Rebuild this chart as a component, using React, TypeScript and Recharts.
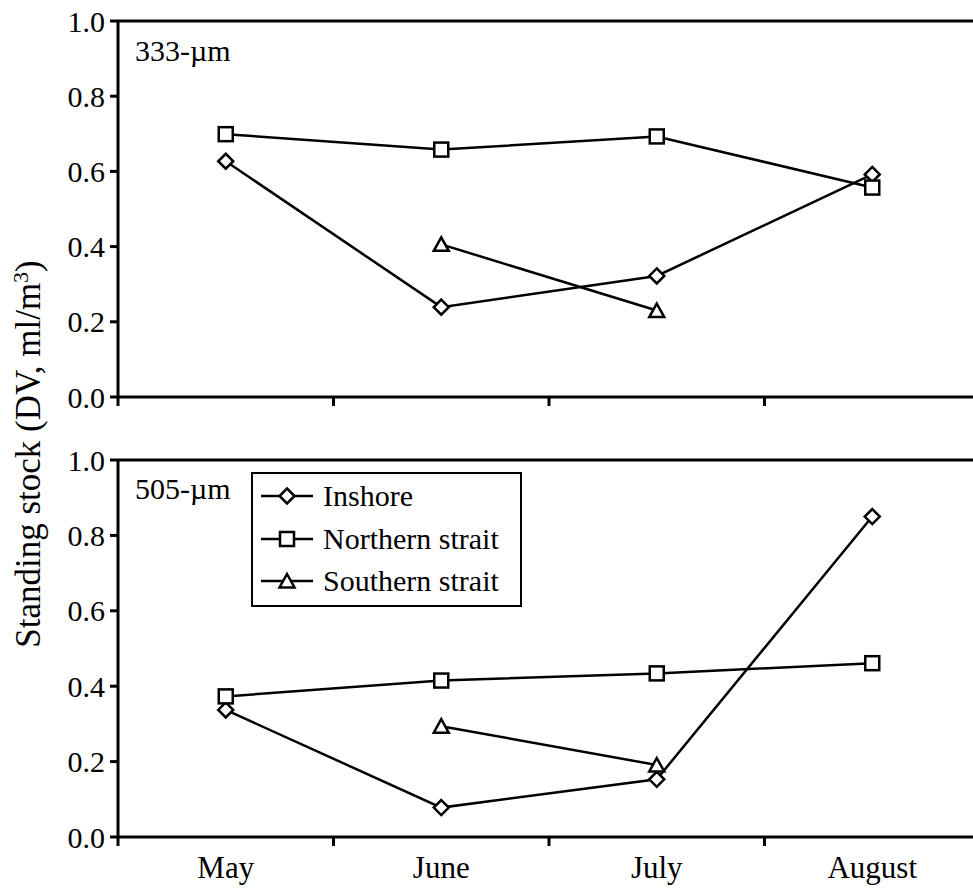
import React from 'react'
import { Legend, Line, LineChart, ReferenceLine, XAxis, YAxis } from 'recharts'

const months = ['May', 'June', 'July', 'August']
const yTicks = [0, 0.2, 0.4, 0.6, 0.8, 1.0]
const xTicks = [0, 0.5, 1, 1.5, 2, 2.5, 3, 3.5, 4]

// 333-um mesh (top panel)
const inshore333 = [0.627, 0.239, 0.322, 0.592]
const northern333 = [0.699, 0.658, 0.693, 0.557]
const southern333 = [null, 0.406, 0.23, null]

// 505-um mesh (bottom panel)
const inshore505 = [0.337, 0.078, 0.153, 0.85]
const northern505 = [0.373, 0.415, 0.434, 0.461]
const southern505 = [null, 0.294, 0.191, null]

const FONT = "'Liberation Serif', 'DejaVu Serif', 'Times New Roman', Times, serif"
const INK = '#000'

type Shape = 'diamond' | 'square' | 'triangle'

const series: { key: string; name: string; shape: Shape }[] = [
    { key: 'inshore', name: 'Inshore', shape: 'diamond' },
    { key: 'northern', name: 'Northern strait', shape: 'square' },
    { key: 'southern', name: 'Southern strait', shape: 'triangle' },
]

const buildRows = (a: (number | null)[], b: (number | null)[], c: (number | null)[]) =>
    months.map((m, i) => ({ month: m, pos: i + 0.5, inshore: a[i], northern: b[i], southern: c[i] }))

const topRows = buildRows(inshore333, northern333, southern333)
const bottomRows = buildRows(inshore505, northern505, southern505)

// marker drawn around (cx, cy)
const Marker = ({ shape, cx, cy }: { shape: Shape; cx: number; cy: number }) => {
    const common = { fill: '#fff', stroke: INK, strokeWidth: 2.5 }
    if (shape === 'diamond') {
        const r = 7.5
        return <polygon points={`${cx},${cy - r} ${cx + r},${cy} ${cx},${cy + r} ${cx - r},${cy}`} {...common} />
    }
    if (shape === 'square') {
        const s = 7
        return <rect x={cx - s} y={cy - s} width={s * 2} height={s * 2} {...common} />
    }
    return <polygon points={`${cx},${cy - 7} ${cx + 7.5},${cy + 6.5} ${cx - 7.5},${cy + 6.5}`} {...common} />
}

const makeDot = (shape: Shape) => (props: any) => {
    const { cx, cy, index, value } = props
    if (cx == null || cy == null || value == null || Number.isNaN(cy)) return <g key={`e-${index}`} />
    return (
        <g key={`d-${index}`}>
            <Marker shape={shape} cx={cx} cy={cy} />
        </g>
    )
}

// integer positions get a tick mark, half positions get the month name
const monthTick = (props: any, showLabels: boolean) => {
    const { x, y, payload } = props
    const v = payload.value as number
    if (Number.isInteger(v)) {
        return <line x1={x} x2={x} y1={y} y2={y + 9} stroke={INK} strokeWidth={3} />
    }
    if (!showLabels) return <g />
    return (
        <text x={x} y={y + 41} textAnchor="middle" fontSize={31} fontFamily={FONT} fill={INK}>
            {months[Math.floor(v)]}
        </text>
    )
}

const renderLegend = () => (
    <div
        style={{
            width: 271,
            height: 135,
            boxSizing: 'border-box',
            border: `2.5px solid ${INK}`,
            background: '#fff',
            padding: '1px 0 0 8px',
            fontFamily: FONT,
            fontSize: 30,
            color: INK,
        }}
    >
        {series.map((s) => (
            <div key={s.key} style={{ height: 42.5, display: 'flex', alignItems: 'center', whiteSpace: 'nowrap' }}>
                <svg width={52} height={22} style={{ marginRight: 10, flex: 'none' }}>
                    <line x1={0} x2={52} y1={11} y2={11} stroke={INK} strokeWidth={2.5} />
                    <Marker shape={s.shape} cx={26} cy={11} />
                </svg>
                <span style={{ lineHeight: '30px' }}>{s.name}</span>
            </div>
        ))}
    </div>
)

type PanelProps = {
    rows: ReturnType<typeof buildRows>
    height: number
    marginTop: number
    xHeight: number
    showLabels: boolean
    legend?: boolean
}

const Panel = ({ rows, height, marginTop, xHeight, showLabels, legend }: PanelProps) => (
    <LineChart
        width={1000}
        height={height}
        data={rows}
        margin={{ top: marginTop, right: 20, bottom: 0, left: 58 }}
        style={{ fontFamily: FONT }}
    >
        <XAxis
            dataKey="pos"
            type="number"
            domain={[0, 4]}
            ticks={xTicks}
            interval={0}
            height={xHeight}
            tickLine={false}
            tickSize={0}
            tickMargin={0}
            axisLine={{ stroke: INK, strokeWidth: 3 }}
            tick={(p: any) => monthTick(p, showLabels)}
        />
        <YAxis
            type="number"
            domain={[0, 1]}
            ticks={yTicks}
            interval={0}
            width={60}
            tickSize={8}
            tickMargin={5}
            tickFormatter={(v: number) => v.toFixed(1)}
            tick={{ fill: INK, fontSize: 30, fontFamily: FONT }}
            tickLine={{ stroke: INK, strokeWidth: 3 }}
            axisLine={{ stroke: INK, strokeWidth: 3 }}
        />
        <ReferenceLine y={1} stroke={INK} strokeWidth={3} />
        {series.map((s) => (
            <Line
                key={s.key}
                dataKey={s.key}
                name={s.name}
                stroke={INK}
                strokeWidth={2.5}
                connectNulls={false}
                dot={makeDot(s.shape)}
                activeDot={false}
                isAnimationActive={false}
            />
        ))}
        {legend && (
            <Legend
                layout="vertical"
                align="center"
                verticalAlign="middle"
                content={renderLegend}
                wrapperStyle={{ left: 251, top: 52, width: 271 }}
            />
        )}
    </LineChart>
)

const panelLabel: React.CSSProperties = {
    position: 'absolute',
    left: 135,
    fontFamily: FONT,
    fontSize: 30,
    lineHeight: '30px',
    color: INK,
}

export default function App() {
    return (
        <div
            style={{
                position: 'absolute',
                left: 0,
                top: 0,
                width: 973,
                height: 888,
                overflow: 'hidden',
                background: '#fff',
            }}
        >
            <div style={{ position: 'absolute', left: 0, top: 0 }}>
                <Panel rows={topRows} height={420} marginTop={21} xHeight={23} showLabels={false} />
            </div>
            <div style={{ position: 'absolute', left: 0, top: 420 }}>
                <Panel rows={bottomRows} height={467} marginTop={40} xHeight={50} showLabels={true} legend />
            </div>
            <div style={{ ...panelLabel, top: 36 }}>333-µm</div>
            <div style={{ ...panelLabel, top: 474 }}>505-µm</div>
            <svg width={70} height={888} style={{ position: 'absolute', left: 0, top: 0 }}>
                <text
                    transform="translate(40,454) rotate(-90)"
                    textAnchor="middle"
                    fontSize={35}
                    fontFamily={FONT}
                    fill={INK}
                >
                    Standing stock (DV, ml/m
                    <tspan dy={-12} fontSize={22}>
                        3
                    </tspan>
                    <tspan dy={12}>)</tspan>
                </text>
            </svg>
        </div>
    )
}
